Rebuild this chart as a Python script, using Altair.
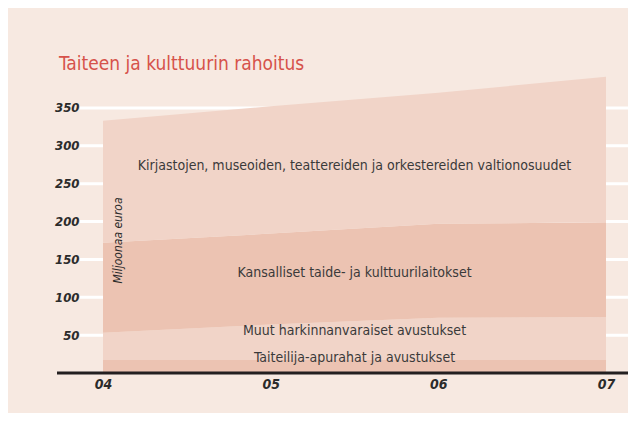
import altair as alt
import pandas as pd

FONT = "Liberation Sans Narrow, DejaVu Sans Condensed, sans-serif"

years = [4, 5, 6, 7]
series = [
    "Taiteilija-apurahat ja avustukset",
    "Muut harkinnanvaraiset avustukset",
    "Kansalliset taide- ja kulttuurilaitokset",
    "Kirjastojen, museoiden, teattereiden ja orkestereiden valtionosuudet",
]
taiteilija = [17, 17, 17, 17]
muut = [36, 47, 56, 57]
kansalliset = [119, 120, 124, 125]
kirjastot = [161, 168, 173, 192]
y_ticks = [50, 100, 150, 200, 250, 300, 350]
colors = ["#ecc3b2", "#f1d4c8", "#ecc3b2", "#f1d4c8"]

values = [taiteilija, muut, kansalliset, kirjastot]
rows = []
for i, (name, vals) in enumerate(zip(series, values)):
    for y, v in zip(years, vals):
        rows.append({"year": y, "value": v, "series": name, "ord": i})
df = pd.DataFrame(rows)

# label positions: middle of each layer at the centre between 05 and 06
lab_rows = []
cum_lo = 0.0
for i, (name, vals) in enumerate(zip(series, values)):
    mid_v = (vals[1] + vals[2]) / 2
    lab_rows.append({"year": 5.5, "value": cum_lo + mid_v / 2, "series": name})
    cum_lo += mid_v
lab_df = pd.DataFrame(lab_rows)
label_dy = [-9, -10, -2, 2]

W, H = 571, 303
xscale = alt.Scale(domain=[3.7256, 7.1312], nice=False, zero=False)
yscale = alt.Scale(domain=[0, 400], nice=False)

grid = alt.Chart(pd.DataFrame({"value": y_ticks})).mark_rule(
    color="white", strokeWidth=3
).encode(
    y=alt.Y("value:Q", scale=yscale, title="Miljoonaa euroa"),
    x=alt.value(23),
    x2=alt.value(W),
)

area = alt.Chart(df).mark_area(interpolate="linear").encode(
    x=alt.X(
        "year:Q",
        scale=xscale,
        axis=alt.Axis(
            values=years,
            labelExpr="'0' + datum.value",
            labelFont=FONT,
            labelFontSize=14,
            labelFontWeight="bold",
            labelFontStyle="italic",
            labelColor="#2b2b2b",
            labelPadding=4,
            ticks=False,
            domain=False,
            grid=False,
            title=None,
        ),
    ),
    y=alt.Y(
        "value:Q",
        stack="zero",
        scale=yscale,
        axis=alt.Axis(
            values=y_ticks,
            labelPadding=-22,
            labelAlign="right",
            labelBaseline="middle",
            labelFont=FONT,
            labelFontSize=13,
            labelFontWeight="bold",
            labelFontStyle="italic",
            labelColor="#2b2b2b",
            ticks=False,
            domain=False,
            grid=False,
            title="Miljoonaa euroa",
            titleX=60,
            titleY=170,
            titleAngle=270,
            titleAlign="center",
            titleBaseline="middle",
            titleFont=FONT,
            titleFontSize=12,
            titleFontWeight="normal",
            titleFontStyle="italic",
            titleColor="#2b2b2b",
            zindex=1,
        ),
    ),
    color=alt.Color(
        "series:N", scale=alt.Scale(domain=series, range=colors), legend=None
    ),
    order=alt.Order("ord:Q"),
)

baseline = alt.Chart(pd.DataFrame({"value": [0]})).mark_rule(
    color="#231f20", strokeWidth=3
).encode(
    y=alt.Y("value:Q", scale=yscale, title="Miljoonaa euroa"),
    x=alt.value(0),
    x2=alt.value(W),
)

label_layers = []
for name, dy in zip(series, label_dy):
    label_layers.append(
        alt.Chart(lab_df[lab_df["series"] == name]).mark_text(
            font=FONT, fontSize=14, color="#3a3a3a", dy=dy,
            align="center", baseline="middle",
        ).encode(
            x=alt.X("year:Q", scale=xscale),
            y=alt.Y("value:Q", scale=yscale, title="Miljoonaa euroa"),
            text="series:N",
        )
    )

chart = alt.layer(grid, area, baseline, *label_layers).properties(
    width=W,
    height=H,
    background="#f7e9e1",
    autosize=alt.AutoSizeParams(type="none"),
    padding={"left": 49, "top": 62, "right": 0, "bottom": 40},
    title=alt.TitleParams(
        "Taiteen ja kulttuurin rahoitus",
        anchor="start",
        frame="group",
        font=FONT,
        fontSize=19,
        fontWeight="normal",
        color="#d6524a",
        baseline="alphabetic",
        offset=1,
        dx=2,
        dy=20,
    ),
).configure_view(stroke=None)

chart.save("out.html", embed_options={"renderer": "svg", "actions": False})
